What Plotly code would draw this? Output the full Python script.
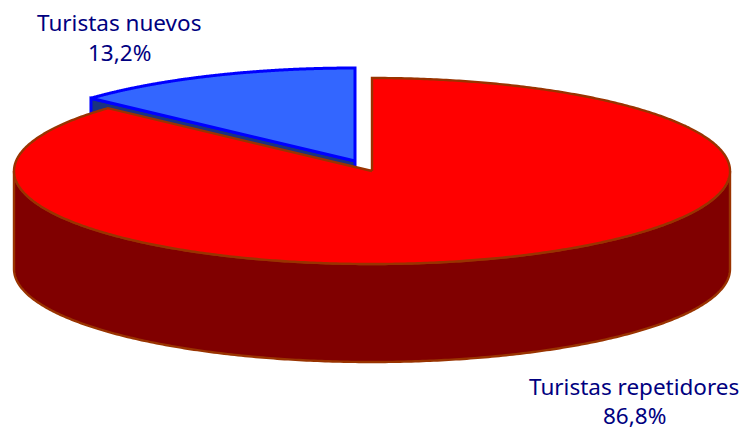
import numpy as np
import plotly.graph_objects as go

categories = ["Turistas repetidores", "Turistas nuevos"]
shares = [86.8, 13.2]
top_colors = ["#FF0000", "#3366FF"]
side_colors = ["#800000", "#1A3380"]
edge_colors = ["#993300", "#0000FF"]
edge_widths = [2.4, 3]
centers = [(372, 171), (355, 161)]
label_pos = [(634, 386, 415), (119, 22, 52)]
RX, RY, DEPTH = 358, 93, 98


def pts(c, a):
    a = np.radians(a)
    return c[0] + RX * np.sin(a), c[1] - RY * np.cos(a)


def arc(c, a0, a1, n=300):
    return pts(c, np.linspace(a0, a1, n))


fig = go.Figure()


def poly(xs, ys, fill, line, width):
    fig.add_trace(go.Scatter(
        x=list(xs), y=list(ys), mode="lines", fill="toself", fillcolor=fill,
        line=dict(color=line, width=width, simplify=False), hoverinfo="skip",
        showlegend=False))


red_end = shares[0] / 100 * 360
red_c, blue_c = centers

# blue slice: cut face, then top
bx, by = pts(blue_c, red_end)
poly([blue_c[0], bx, bx, blue_c[0], blue_c[0]],
     [blue_c[1], by, by + DEPTH, blue_c[1] + DEPTH, blue_c[1]],
     side_colors[1], edge_colors[1], edge_widths[1])
ax, ay = arc(blue_c, red_end, 360)
poly([blue_c[0], *ax, blue_c[0]], [blue_c[1], *ay, blue_c[1]],
     top_colors[1], edge_colors[1], edge_widths[1])

# red slice: outer wall, then top
wx, wy = arc(red_c, 90, 270)
poly([*wx, *wx[::-1], wx[0]], [*wy, *(wy[::-1] + DEPTH), wy[0]],
     side_colors[0], edge_colors[0], edge_widths[0])
ax, ay = arc(red_c, 0, red_end, 600)
poly([red_c[0], *ax, red_c[0]], [red_c[1], *ay, red_c[1]],
     top_colors[0], edge_colors[0], edge_widths[0])

FONT = dict(family="Noto Sans", size=22.5, color="#000080")
for name, share, (lx, y1, y2) in zip(categories, shares, label_pos):
    fig.add_annotation(x=lx, y=y1, text=name, showarrow=False, font=FONT)
    fig.add_annotation(x=lx, y=y2, text=f"{share:.1f}%".replace(".", ","),
                       showarrow=False, font=FONT)

fig.update_layout(
    width=741, height=432, margin=dict(l=0, r=0, t=0, b=0),
    paper_bgcolor="white", plot_bgcolor="white", showlegend=False,
    xaxis=dict(range=[0, 741], visible=False),
    yaxis=dict(range=[432, 0], visible=False),
)
fig.write_html("out.html", config={"displayModeBar": False},
               post_script="document.body.style.margin='0';document.body.style.overflow='hidden';")
